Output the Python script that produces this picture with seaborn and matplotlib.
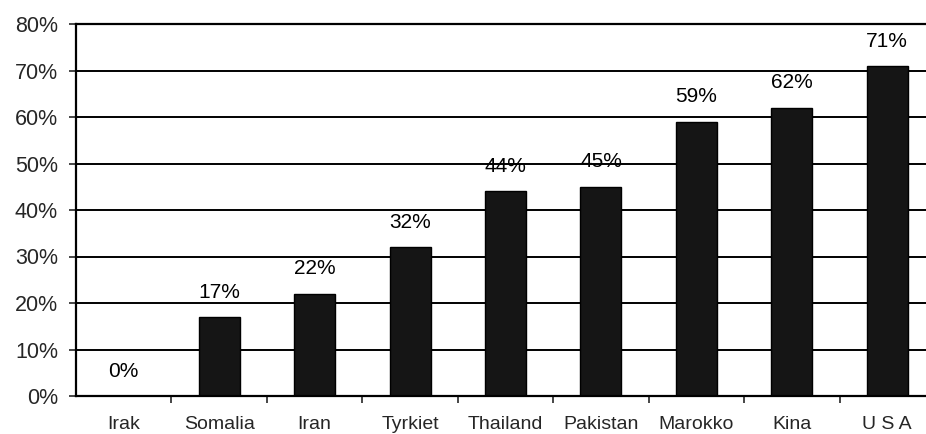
import matplotlib
matplotlib.use("Agg")
import matplotlib.pyplot as plt
import seaborn as sns
import pandas as pd

categories = ["Irak", "Somalia", "Iran", "Tyrkiet", "Thailand", "Pakistan", "Marokko", "Kina", "U S A"]
values = [0, 17, 22, 32, 44, 45, 59, 62, 71]
value_labels = ["0%", "17%", "22%", "32%", "44%", "45%", "59%", "62%", "71%"]
y_ticks = [0, 10, 20, 30, 40, 50, 60, 70, 80]
y_tick_labels = ["0%", "10%", "20%", "30%", "40%", "50%", "60%", "70%", "80%"]

sns.set_style("white")
plt.rcParams["font.family"] = ["Liberation Sans", "DejaVu Sans"]

df = pd.DataFrame({"land": categories, "andel": values})

fig = plt.figure(figsize=(9.26, 4.34), dpi=100)
ax = fig.add_axes([76 / 926, 38 / 434, 859 / 926, 372 / 434])

ax.set_axisbelow(True)
for t in y_ticks[1:]:
    ax.axhline(t, color="black", lw=1.4, zorder=0)

sns.barplot(data=df, x="land", y="andel", order=categories, color="#151515",
            edgecolor="black", linewidth=1.0, width=0.43, saturation=1, ax=ax, zorder=2)

for i, (v, lab) in enumerate(zip(values, value_labels)):
    ax.annotate(lab, (i, v), xytext=(0, 11), textcoords="offset points",
                ha="center", va="bottom", fontsize=15, color="black")

ax.set_xlim(-0.5, len(categories) - 0.5)
ax.set_ylim(0, 80)
ax.set_yticks(y_ticks)
ax.set_yticklabels(y_tick_labels, fontsize=15.5)
ax.set_xticks(range(len(categories)))
ax.set_xticklabels(categories, fontsize=14)
ax.tick_params(axis="x", length=0, pad=14.5)
ax.tick_params(axis="y", length=5, width=1.2, pad=8, direction="out", left=True)
# minor ticks at category boundaries
ax.set_xticks([i + 0.5 for i in range(len(categories) - 1)], minor=True)
ax.tick_params(axis="x", which="minor", length=5, width=1.2, direction="out", bottom=True)

ax.set_xlabel("")
ax.set_ylabel("")
for s in ["left", "bottom", "top"]:
    ax.spines[s].set_visible(True)
    ax.spines[s].set_color("black")
    ax.spines[s].set_linewidth(1.6)
ax.spines["right"].set_visible(False)

fig.savefig("out.png", dpi=100)
